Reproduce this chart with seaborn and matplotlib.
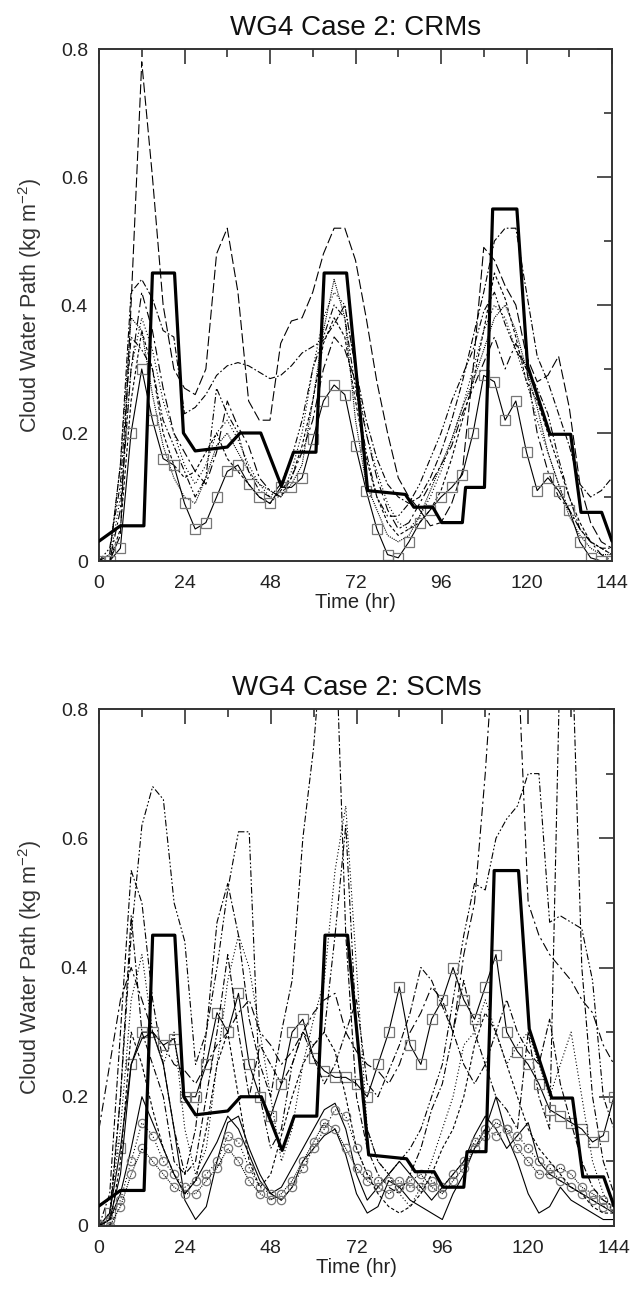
import matplotlib
matplotlib.use("Agg")
import matplotlib.pyplot as plt
import seaborn as sns
from matplotlib.ticker import MultipleLocator

# ---------------- data ----------------
hours = [0, 3, 6, 9, 12, 15, 18, 21, 24, 27, 30, 33, 36, 39, 42, 45, 48, 51, 54, 57,
         60, 63, 66, 69, 72, 75, 78, 81, 84, 87, 90, 93, 96, 99, 102, 105, 108, 111,
         114, 117, 120, 123, 126, 129, 132, 135, 138, 141, 144]

obs_t = [0, 6, 12.6, 15, 21.2, 23.7, 27, 36, 39.6, 45.4, 51.2, 54.6, 60.9, 63.2, 69.5,
         75.4, 86, 88.4, 93.7, 96.2, 102, 102.9, 108.2, 110.5, 117.3, 120.3, 126.6,
         132.4, 135.3, 141.1, 144]
obs_v = [0.031, 0.055, 0.055, 0.45, 0.45, 0.2, 0.172, 0.178, 0.2, 0.2, 0.117, 0.17,
         0.17, 0.45, 0.45, 0.11, 0.104, 0.084, 0.084, 0.06, 0.06, 0.115, 0.115, 0.55,
         0.55, 0.305, 0.198, 0.198, 0.076, 0.076, 0.031]

# CRMs
crm_a = [0.0, 0.0, 0.04, 0.4, 0.78, 0.6, 0.4, 0.3, 0.27, 0.26, 0.3, 0.48, 0.52, 0.42,
         0.25, 0.22, 0.22, 0.34, 0.375, 0.38, 0.42, 0.48, 0.52, 0.52, 0.47, 0.38, 0.28,
         0.2, 0.13, 0.1, 0.08, 0.055, 0.06, 0.09, 0.14, 0.3, 0.49, 0.47, 0.43, 0.4, 0.32,
         0.28, 0.29, 0.32, 0.24, 0.12, 0.06, 0.03, 0.02]
crm_b = [0.0, 0.01, 0.15, 0.42, 0.44, 0.41, 0.36, 0.35, 0.23, 0.24, 0.26, 0.29, 0.305,
         0.31, 0.305, 0.295, 0.285, 0.29, 0.305, 0.325, 0.335, 0.345, 0.37, 0.4, 0.3,
         0.22, 0.16, 0.12, 0.1, 0.09, 0.1, 0.13, 0.17, 0.22, 0.28, 0.35, 0.42, 0.5, 0.52,
         0.52, 0.42, 0.32, 0.28, 0.23, 0.18, 0.12, 0.1, 0.11, 0.13]
crm_c = [0.0, 0.0, 0.1, 0.3, 0.38, 0.33, 0.25, 0.2, 0.15, 0.12, 0.15, 0.2, 0.22, 0.19,
         0.15, 0.12, 0.1, 0.1, 0.14, 0.2, 0.3, 0.38, 0.42, 0.4, 0.3, 0.2, 0.14, 0.09,
         0.06, 0.05, 0.07, 0.1, 0.14, 0.19, 0.24, 0.3, 0.36, 0.4, 0.38, 0.33, 0.28, 0.22,
         0.17, 0.12, 0.08, 0.05, 0.03, 0.02, 0.01]
crm_d = [0.0, 0.02, 0.12, 0.35, 0.33, 0.3, 0.22, 0.18, 0.14, 0.1, 0.13, 0.27, 0.23, 0.2,
         0.14, 0.11, 0.1, 0.12, 0.16, 0.22, 0.3, 0.35, 0.4, 0.38, 0.27, 0.17, 0.1, 0.07,
         0.07, 0.09, 0.12, 0.16, 0.2, 0.25, 0.29, 0.33, 0.39, 0.42, 0.37, 0.33, 0.3, 0.27,
         0.23, 0.16, 0.1, 0.05, 0.03, 0.02, 0.02]
crm_e = [0.0, 0.0, 0.05, 0.25, 0.36, 0.3, 0.2, 0.15, 0.13, 0.14, 0.17, 0.2, 0.16, 0.14,
         0.12, 0.1, 0.09, 0.11, 0.13, 0.18, 0.25, 0.34, 0.38, 0.35, 0.25, 0.16, 0.1, 0.06,
         0.04, 0.05, 0.06, 0.08, 0.11, 0.16, 0.22, 0.28, 0.36, 0.45, 0.41, 0.35, 0.28,
         0.25, 0.2, 0.15, 0.1, 0.06, 0.03, 0.02, 0.01]
crm_f = [0.0, 0.01, 0.15, 0.38, 0.36, 0.26, 0.18, 0.13, 0.1, 0.09, 0.13, 0.18, 0.2, 0.17,
         0.14, 0.12, 0.11, 0.1, 0.12, 0.15, 0.25, 0.36, 0.44, 0.38, 0.22, 0.12, 0.08,
         0.04, 0.03, 0.04, 0.07, 0.11, 0.15, 0.19, 0.24, 0.28, 0.33, 0.38, 0.4, 0.36, 0.3,
         0.24, 0.17, 0.12, 0.07, 0.04, 0.02, 0.01, 0.01]
crm_g = [0.0, 0.0, 0.08, 0.3, 0.42, 0.36, 0.27, 0.2, 0.17, 0.14, 0.12, 0.17, 0.25, 0.21,
         0.18, 0.13, 0.11, 0.1, 0.13, 0.17, 0.22, 0.3, 0.35, 0.33, 0.28, 0.2, 0.13, 0.08,
         0.05, 0.06, 0.09, 0.12, 0.15, 0.18, 0.23, 0.27, 0.31, 0.35, 0.3, 0.34, 0.3, 0.2,
         0.14, 0.1, 0.08, 0.05, 0.03, 0.01, 0.0]
crm_sq = [0.0, 0.0, 0.02, 0.2, 0.3, 0.22, 0.16, 0.15, 0.09, 0.05, 0.06, 0.1, 0.14, 0.15,
          0.12, 0.1, 0.09, 0.115, 0.115, 0.13, 0.19, 0.25, 0.275, 0.26, 0.18, 0.11, 0.05,
          0.01, 0.005, 0.03, 0.06, 0.08, 0.1, 0.115, 0.135, 0.2, 0.29, 0.28, 0.22, 0.25,
          0.17, 0.11, 0.13, 0.11, 0.08, 0.03, 0.005, 0.0, 0.0]

# SCMs
scm_a = [0.0, 0.02, 0.2, 0.45, 0.62, 0.68, 0.66, 0.5, 0.44, 0.25, 0.3, 0.4, 0.52, 0.61,
         0.61, 0.2, 0.12, 0.15, 0.25, 0.3, 0.28, 0.3, 0.45, 0.62, 0.3, 0.15, 0.1, 0.08,
         0.1, 0.12, 0.15, 0.2, 0.25, 0.35, 0.45, 0.53, 0.52, 0.6, 0.63, 0.65, 0.7, 0.7,
         0.47, 0.48, 0.47, 0.46, 0.38, 0.2, 0.15]
scm_b = [0.0, 0.05, 0.3, 0.55, 0.5, 0.35, 0.25, 0.15, 0.08, 0.15, 0.3, 0.47, 0.53, 0.45,
         0.32, 0.25, 0.2, 0.3, 0.38, 0.6, 0.74, 0.95, 0.95, 0.45, 0.2, 0.12, 0.08, 0.06,
         0.05, 0.08, 0.12, 0.18, 0.22, 0.3, 0.38, 0.3, 0.25, 0.2, 0.18, 0.15, 0.3, 0.2,
         0.15, 0.9, 0.95, 0.4, 0.2, 0.1, 0.05]
scm_c = [0.15, 0.25, 0.35, 0.4, 0.35, 0.3, 0.28, 0.25, 0.24, 0.22, 0.25, 0.28, 0.3, 0.33,
         0.35, 0.3, 0.28, 0.25, 0.27, 0.3, 0.33, 0.35, 0.36, 0.3, 0.27, 0.25, 0.24, 0.22,
         0.25, 0.3, 0.33, 0.37, 0.35, 0.3, 0.42, 0.5, 0.7, 0.95, 0.95, 0.9, 0.5, 0.45,
         0.42, 0.4, 0.38, 0.35, 0.33, 0.28, 0.25]
scm_sq = [0.0, 0.02, 0.12, 0.25, 0.3, 0.3, 0.28, 0.29, 0.2, 0.2, 0.25, 0.33, 0.3, 0.36,
          0.25, 0.2, 0.17, 0.22, 0.3, 0.32, 0.26, 0.24, 0.23, 0.23, 0.22, 0.2, 0.25, 0.3,
          0.37, 0.28, 0.25, 0.32, 0.35, 0.4, 0.35, 0.32, 0.37, 0.42, 0.3, 0.27, 0.25, 0.22,
          0.18, 0.17, 0.16, 0.15, 0.13, 0.14, 0.2]
scm_e = [0.0, 0.01, 0.05, 0.12, 0.2, 0.16, 0.12, 0.08, 0.05, 0.07, 0.1, 0.13, 0.17, 0.15,
         0.11, 0.07, 0.05, 0.06, 0.09, 0.12, 0.15, 0.18, 0.19, 0.15, 0.08, 0.04, 0.06,
         0.08, 0.1, 0.08, 0.06, 0.04, 0.06, 0.08, 0.1, 0.14, 0.17, 0.15, 0.12, 0.14, 0.16,
         0.1, 0.08, 0.07, 0.06, 0.05, 0.04, 0.03, 0.02]
scm_f = [0.0, 0.01, 0.08, 0.25, 0.29, 0.3, 0.25, 0.15, 0.04, 0.01, 0.03, 0.1, 0.16, 0.17,
         0.12, 0.08, 0.05, 0.04, 0.06, 0.1, 0.12, 0.14, 0.15, 0.11, 0.05, 0.02, 0.03,
         0.07, 0.06, 0.04, 0.03, 0.02, 0.01, 0.05, 0.08, 0.12, 0.15, 0.2, 0.14, 0.1, 0.05,
         0.02, 0.03, 0.06, 0.04, 0.03, 0.02, 0.01, 0.01]
scm_o1 = [0.0, 0.01, 0.04, 0.1, 0.16, 0.14, 0.1, 0.08, 0.06, 0.07, 0.08, 0.1, 0.14, 0.13,
          0.09, 0.06, 0.05, 0.04, 0.06, 0.09, 0.12, 0.15, 0.18, 0.17, 0.12, 0.08, 0.07,
          0.07, 0.07, 0.06, 0.06, 0.07, 0.06, 0.08, 0.1, 0.13, 0.15, 0.14, 0.15, 0.14,
          0.12, 0.1, 0.09, 0.07, 0.06, 0.05, 0.04, 0.03, 0.03]
scm_o2 = [0.0, 0.0, 0.03, 0.08, 0.12, 0.1, 0.08, 0.06, 0.05, 0.05, 0.07, 0.09, 0.12, 0.1,
          0.07, 0.05, 0.04, 0.05, 0.07, 0.1, 0.13, 0.16, 0.15, 0.12, 0.09, 0.07, 0.06,
          0.05, 0.06, 0.07, 0.08, 0.06, 0.05, 0.07, 0.09, 0.12, 0.14, 0.16, 0.15, 0.12,
          0.1, 0.08, 0.08, 0.09, 0.08, 0.06, 0.05, 0.04, 0.03]
scm_i = [0.0, 0.02, 0.15, 0.35, 0.42, 0.3, 0.25, 0.3, 0.15, 0.08, 0.12, 0.25, 0.38, 0.45,
         0.4, 0.3, 0.2, 0.1, 0.15, 0.25, 0.32, 0.38, 0.55, 0.65, 0.4, 0.15, 0.1, 0.08,
         0.05, 0.03, 0.06, 0.1, 0.15, 0.2, 0.28, 0.3, 0.35, 0.3, 0.25, 0.28, 0.3, 0.25,
         0.2, 0.25, 0.3, 0.2, 0.1, 0.05, 0.02]
scm_j = [0.0, 0.0, 0.1, 0.3, 0.25, 0.18, 0.12, 0.08, 0.05, 0.07, 0.15, 0.25, 0.3, 0.2,
         0.1, 0.06, 0.08, 0.14, 0.2, 0.25, 0.28, 0.3, 0.27, 0.2, 0.12, 0.08, 0.05, 0.03,
         0.02, 0.03, 0.05, 0.08, 0.12, 0.15, 0.2, 0.28, 0.33, 0.3, 0.25, 0.2, 0.15, 0.12,
         0.1, 0.08, 0.06, 0.05, 0.03, 0.02, 0.02]
scm_k = [0.0, 0.01, 0.2, 0.48, 0.3, 0.25, 0.2, 0.1, 0.08, 0.1, 0.2, 0.3, 0.42, 0.3, 0.2,
         0.28, 0.25, 0.22, 0.25, 0.3, 0.26, 0.22, 0.25, 0.3, 0.35, 0.22, 0.2, 0.24, 0.28,
         0.33, 0.4, 0.38, 0.34, 0.3, 0.25, 0.22, 0.25, 0.3, 0.35, 0.3, 0.27, 0.25, 0.32,
         0.22, 0.16, 0.1, 0.06, 0.04, 0.03]

y_ticks = [0, 0.2, 0.4, 0.6, 0.8]
y_labels = ["0", "0.2", "0.4", "0.6", "0.8"]
x_ticks = [0, 24, 48, 72, 96, 120, 144]

# ---------------- style ----------------
sns.set_theme(style="white")
plt.rcParams["font.family"] = ["Liberation Sans", "DejaVu Sans"]
plt.rcParams["mathtext.default"] = "regular"

LONG = (0, (9, 3))
DASHDOT = (0, (6, 2, 1.5, 2))
DASHDOTDOT = (0, (6, 2, 1.5, 2, 1.5, 2))
DOT = (0, (1, 2))
SHORT = (0, (3, 2))
DENSE = (0, (1, 1))
LOOSEDD = (0, (8, 3, 2, 3))

crm_series = [
    (crm_a, LONG, None), (crm_b, DASHDOT, None), (crm_c, DOT, None),
    (crm_d, DASHDOTDOT, None), (crm_e, SHORT, None), (crm_f, DENSE, None),
    (crm_g, LOOSEDD, None), (crm_sq, "-", "s"),
]
scm_series = [
    (scm_a, DASHDOTDOT, None), (scm_b, DASHDOT, None), (scm_c, LOOSEDD, None),
    (scm_sq, "-", "s"), (scm_e, "-", None), (scm_f, "-", None),
    (scm_o1, DOT, "o"), (scm_o2, DENSE, "o"), (scm_i, DOT, None),
    (scm_j, SHORT, None), (scm_k, DASHDOT, None),
]

W, H = 633, 1295
fig = plt.figure(figsize=(W / 100, H / 100), dpi=100)
# axes boxes in pixels: left, right, top, bottom
ax1 = fig.add_axes([99 / W, 1 - 561 / H, (612 - 99) / W, (561 - 49) / H])
ax2 = fig.add_axes([99 / W, 1 - 1226 / H, (614 - 99) / W, (1226 - 709) / H])


def draw(ax, series, title):
    for vals, ls, mk in series:
        kw = dict(color="black", linewidth=0.8, linestyle=ls)
        if mk is not None:
            kw.update(marker=mk, markersize=6.5 if mk == "s" else 6,
                      markerfacecolor="none", markeredgecolor="#777777",
                      markeredgewidth=0.9)
        sns.lineplot(x=hours, y=vals, ax=ax, legend=False, **kw)
    sns.lineplot(x=obs_t, y=obs_v, ax=ax, color="black", linewidth=2.3,
                 legend=False, zorder=5)
    ax.set_xlim(0, 144)
    ax.set_ylim(0, 0.8)
    ax.set_xticks(x_ticks, labels=[str(v) for v in x_ticks])
    ax.set_yticks(y_ticks, labels=y_labels)
    ax.xaxis.set_minor_locator(MultipleLocator(12))
    ax.yaxis.set_minor_locator(MultipleLocator(0.1))
    ax.tick_params(which="both", direction="in", top=True, right=True,
                   color="#333333", width=1.2, labelsize=14, labelcolor="#222222")
    ax.tick_params(which="major", length=11)
    ax.tick_params(which="minor", length=6)
    ax.tick_params(axis="x", pad=10)
    ax.tick_params(axis="y", pad=8)
    for s in ax.spines.values():
        s.set_linewidth(1.4)
        s.set_color("#333333")
    ax.set_xlabel("Time (hr)", fontsize=14.5, labelpad=1, color="#222222")
    ax.set_ylabel("Cloud Water Path (kg m$^{-2}$)", fontsize=15.5, labelpad=12,
                  color="#333333")
    ax.set_title(title, fontsize=20, pad=10, color="#111111")


draw(ax1, crm_series, "WG4 Case 2: CRMs")
draw(ax2, scm_series, "WG4 Case 2: SCMs")

fig.savefig("out.png", dpi=100, facecolor="white")
